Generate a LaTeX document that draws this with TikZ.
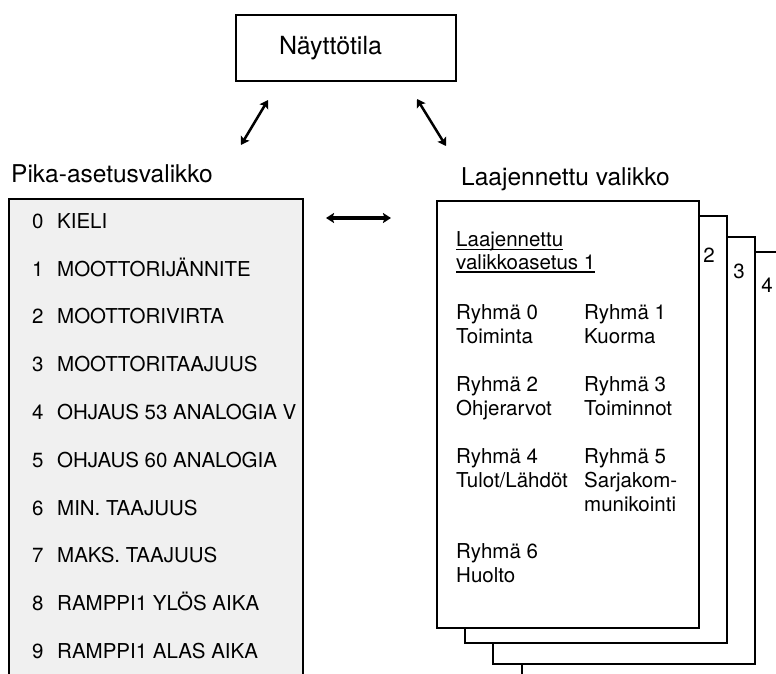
\documentclass[tikz,border=0pt]{standalone}
\usepackage{fontspec}
\setmainfont{TeX Gyre Heros}
\usetikzlibrary{arrows.meta}

% underline sitting just below the baseline
\newcommand{\menuline}[1]{\setbox0\hbox{#1}\rlap{\rule[-3.5pt]{\wd0}{1.3pt}}\box0}
% lines stacked from the baseline of the first one
\newcommand{\lines}[1]{\begin{tabular}[t]{@{}l@{}}#1\end{tabular}}

\tikzset{
  twoway/.style={line width=2.5pt, {Stealth[length=8pt,width=10pt,inset=1.5pt]}-{Stealth[length=8pt,width=10pt,inset=1.5pt]}},
  menubox/.style={line width=2.4pt},
  pagebox/.style={draw, line width=1.9pt, fill=white},
  heading/.style={anchor=base west, inner sep=0pt, font=\fontsize{24.5}{28}\selectfont},
  itemtext/.style={anchor=base west, inner sep=0pt, font=\fontsize{20.5}{24}\selectfont},
  grouptext/.style={anchor=base west, inner sep=0pt, font=\fontsize{20.5}{24}\selectfont},
  pagenum/.style={inner sep=0pt, font=\fontsize{20.5}{24}\selectfont},
}

\begin{document}
\begin{tikzpicture}[x=1pt,y=-1pt]
\useasboundingbox (0,0) rectangle (776,673);
\clip (0,0) rectangle (776,673);

% display mode
\node[draw, line width=2.6pt, text width=134pt, inner xsep=43pt, minimum height=66pt, align=left,
      font=\fontsize{25}{28}\selectfont] (naytto) at (346,48) {Näyttötila};

\coordinate (nL) at (268,100); \coordinate (pL) at (241,145);
\coordinate (nR) at (417,99);  \coordinate (lR) at (446,146);
\draw[twoway] (nL) -- (pL);
\draw[twoway] (nR) -- (lR);

% quick menu
\node[heading] (pika) at (11,182) {Pika-asetusvalikko};
\draw[menubox, fill=black!6] (9,199) rectangle (303,700);
\foreach \n/\t in {0/KIELI, 1/MOOTTORIJÄNNITE, 2/MOOTTORIVIRTA, 3/MOOTTORITAAJUUS,
                   4/OHJAUS 53 ANALOGIA V, 5/OHJAUS 60 ANALOGIA, 6/MIN. TAAJUUS,
                   7/MAKS. TAAJUUS, 8/RAMPPI1 YLÖS AIKA, 9/RAMPPI1 ALAS AIKA} {
  \node[itemtext] (num\n) at (32,228.3+47.8*\n) {\n};
  \node[itemtext] (item\n) at (57,228.3+47.8*\n) {\t};
}

\coordinate (qA) at (326,218); \coordinate (qB) at (391,218);
\draw[twoway, line width=3.2pt] (qA) -- (qB);

% extended menu, pages stacked back to front
\node[heading] (laaj) at (461,185) {Laajennettu valikko};
\foreach \d/\o in {51/85, 36/56, 15/28, 0/0}
  \draw[pagebox] (437+\o,201+\d) rectangle (699+\o,628+\d);
\node[pagenum] (p2) at (709,255) {2};
\node[pagenum] (p3) at (739,271) {3};
\node[pagenum] (p4) at (767,285) {4};

\node[grouptext, font=\fontsize{20.5}{22.5}\selectfont] (asetus) at (456,246.5)
  {\lines{\menuline{Laajennettu}\\\menuline{valikkoasetus 1}}};
\node[grouptext] (g0) at (456,319) {\lines{Ryhmä 0\\Toiminta}};
\node[grouptext] (g1) at (584,319) {\lines{Ryhmä 1\\Kuorma}};
\node[grouptext] (g2) at (456,391) {\lines{Ryhmä 2\\Ohjerarvot}};
\node[grouptext] (g3) at (584,391) {\lines{Ryhmä 3\\Toiminnot}};
\node[grouptext] (g4) at (456,463) {\lines{Ryhmä 4\\Tulot/Lähdöt}};
\node[grouptext] (g5) at (584,463) {\lines{Ryhmä 5\\Sarjakom-\\munikointi}};
\node[grouptext] (g6) at (456,558) {\lines{Ryhmä 6\\Huolto}};
\end{tikzpicture}
\end{document}
